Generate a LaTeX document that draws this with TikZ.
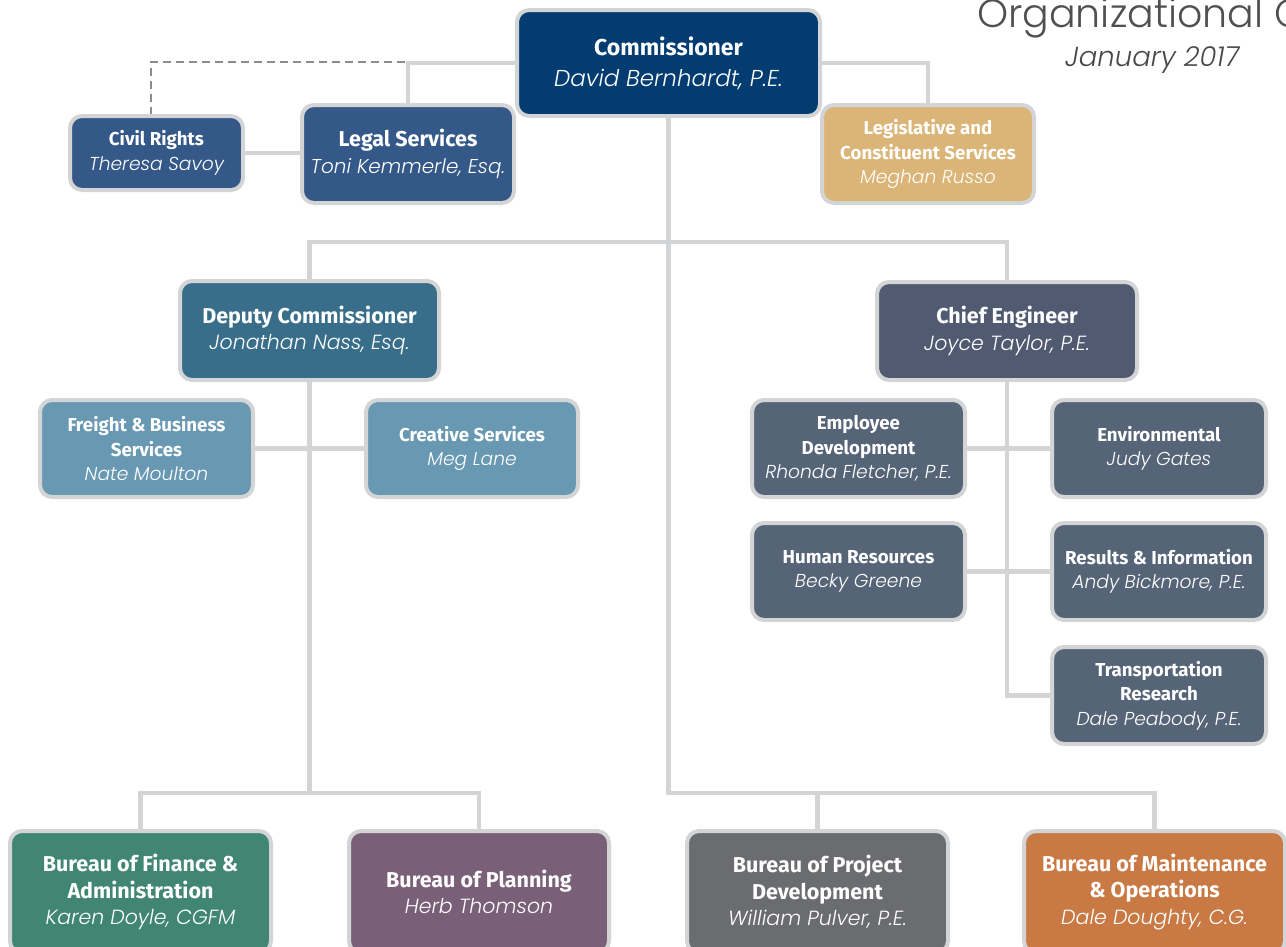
\documentclass[tikz,border=0pt]{standalone}
\usepackage{fontspec}
\usetikzlibrary{backgrounds}
\setmainfont{Fira Sans}
\IfFontExistsTF{Poppins Light Italic}{\newfontfamily\namefont{Poppins Light Italic}}{\newfontfamily\namefontfam{Poppins}\newcommand\namefont{\namefontfam\itshape}}
\IfFontExistsTF{Poppins Light}{\newfontfamily\titlefont{Poppins Light}}{\newfontfamily\titlefont{Poppins}}
\IfFontExistsTF{Poppins Light Italic}{\newfontfamily\datefont{Poppins Light Italic}}{\newfontfamily\datefontfam{Poppins}\newcommand\datefont{\datefontfam\itshape}}
\newcommand\bt[1]{{\bfseries #1}}
\newcommand\nm[1]{{\namefont #1}}
\newcommand\bnm[1]{{\namefont\fontsize{20.5}{26.5}\selectfont #1}}
\definecolor{cnavy}{HTML}{023C70}
\definecolor{clegal}{HTML}{345887}
\definecolor{ctan}{HTML}{DAB577}
\definecolor{cdeputy}{HTML}{386E89}
\definecolor{cchief}{HTML}{505B72}
\definecolor{clblue}{HTML}{6898B2}
\definecolor{cslate}{HTML}{566478}
\definecolor{cgreen}{HTML}{418672}
\definecolor{cpurple}{HTML}{7A5F78}
\definecolor{cgrey}{HTML}{6B6C70}
\definecolor{corange}{HTML}{C97A44}
\definecolor{cline}{HTML}{D3D4D5}
\definecolor{cdash}{HTML}{8C8C8C}
\definecolor{ctitle}{HTML}{505050}
\definecolor{cdate}{HTML}{484848}
\begin{document}
\begin{tikzpicture}[x=1pt,y=-1pt,
  orgbox/.style={draw=cline, line width=4pt, rounded corners=12pt, align=center,
    inner sep=0pt, text=white},
  smallfont/.style={font=\fontsize{18.7}{24.5}\selectfont},
  bigfont/.style={font=\fontsize{21.5}{26.5}\selectfont},
  topfont/.style={font=\fontsize{23}{31}\selectfont},
  conn/.style={draw=cline, line width=4.5pt},
  dashconn/.style={draw=cdash, line width=2pt, dash pattern=on 8pt off 5pt}]
\useasboundingbox (0,0) rectangle (1286,946);
\clip (0,0) rectangle (1286,946);

% title
\node[anchor=base west, text=ctitle, font=\titlefont\fontsize{39.5}{40}\selectfont, inner sep=0pt] (title) at (977,27) {Organizational Chart};
\node[anchor=base west, text=cdate, font=\datefont\fontsize{27.5}{27.5}\selectfont, inner sep=0pt] (date) at (1065,66) {January 2017};

\coordinate (hub) at (668.5,242);
\coordinate (bl) at (309.5,793);
\coordinate (dashstart) at (405,62);

\node[orgbox, topfont, fill=cnavy, minimum width=303pt, minimum height=106pt] (comm) at (668.5,63) {\bt{Commissioner}\\\nm{David Bernhardt, P.E.}};
\node[orgbox, smallfont, fill=ctan, minimum width=212pt, minimum height=98pt] (legis) at (928,154) {\bt{Legislative and}\\\bt{Constituent Services}\\\nm{Meghan Russo}};
\node[orgbox, bigfont, fill=clegal, minimum width=212pt, minimum height=98pt] (legal) at (408,154) {\bt{Legal Services}\\{\namefont\fontsize{20}{27}\selectfont Toni Kemmerle, Esq.}};
\node[orgbox, smallfont, fill=clegal, minimum width=173pt, minimum height=74pt] (civil) at (156.5,153) {\bt{Civil Rights}\\\nm{Theresa Savoy}};
\node[orgbox, bigfont, fill=cdeputy, minimum width=259pt, minimum height=99pt] (deputy) at (309.5,330.5) {\bt{Deputy Commissioner}\\\bnm{Jonathan Nass, Esq.}};
\node[orgbox, bigfont, fill=cchief, minimum width=260pt, minimum height=98pt] (chief) at (1007,331) {\bt{Chief Engineer}\\\bnm{Joyce Taylor, P.E.}};
\node[orgbox, smallfont, fill=clblue, minimum width=213pt, minimum height=97pt] (freight) at (146.5,448.5) {\bt{Freight \& Business}\\\bt{Services}\\\nm{Nate Moulton}};
\node[orgbox, smallfont, fill=clblue, minimum width=212pt, minimum height=97pt] (creative) at (472,448.5) {\bt{Creative Services}\\\nm{Meg Lane}};
\node[orgbox, smallfont, fill=cslate, minimum width=213pt, minimum height=97pt] (empdev) at (858.5,448.5) {\bt{Employee}\\\bt{Development}\\\nm{Rhonda Fletcher, P.E.}};
\node[orgbox, smallfont, fill=cslate, minimum width=214pt, minimum height=97pt] (env) at (1159,448.5) {\bt{Environmental}\\\nm{Judy Gates}};
\node[orgbox, smallfont, fill=cslate, minimum width=213pt, minimum height=97pt] (hr) at (858.5,571.5) {\bt{Human Resources}\\\nm{Becky Greene}};
\node[orgbox, smallfont, fill=cslate, minimum width=214pt, minimum height=97pt] (results) at (1159,571.5) {\bt{Results \& Information}\\\nm{Andy Bickmore, P.E.}};
\node[orgbox, smallfont, fill=cslate, minimum width=214pt, minimum height=97pt] (transp) at (1159,695.5) {\bt{Transportation}\\\bt{Research}\\\nm{Dale Peabody, P.E.}};
\node[orgbox, bigfont, fill=cgreen, minimum width=261pt, minimum height=122pt] (finance) at (140.5,892) {\bt{Bureau of Finance \&}\\\bt{Administration}\\\bnm{Karen Doyle, CGFM}};
\node[orgbox, bigfont, fill=cpurple, minimum width=260pt, minimum height=122pt] (planning) at (479,892) {\bt{Bureau of Planning}\\\bnm{Herb Thomson}};
\node[orgbox, bigfont, fill=cgrey, minimum width=261pt, minimum height=122pt] (projdev) at (817.5,892) {\bt{Bureau of Project}\\\bt{Development}\\\bnm{William Pulver, P.E.}};
\node[orgbox, bigfont, fill=corange, minimum width=261pt, minimum height=122pt] (maint) at (1154.5,892) {\bt{Bureau of Maintenance}\\\bt{\& Operations}\\\bnm{Dale Doughty, C.G.}};

\begin{scope}[on background layer]
  \draw[conn] (comm.west) -| (legal.north);
  \draw[conn] (comm.east) -| (legis.north);
  \draw[dashconn] (dashstart) -| ([xshift=-6pt]civil.north);
  \draw[conn] (civil.east) -- (legal.west |- civil.east);
  \draw[conn] (comm.south) |- (maint.north |- bl) -- (maint.north);
  \draw[conn] (projdev.north) -- (projdev.north |- bl);
  \draw[conn] (deputy.north) |- (hub) -| (chief.north);
  \draw[conn] (deputy.south) -- (bl);
  \draw[conn] (finance.north) |- (bl) -| (planning.north);
  \draw[conn] (freight.east) -- (creative.west);
  \draw[conn] (chief.south) |- (transp.west);
  \draw[conn] (empdev.east) -- (env.west);
  \draw[conn] (hr.east) -- (results.west);
\end{scope}
\end{tikzpicture}
\end{document}
